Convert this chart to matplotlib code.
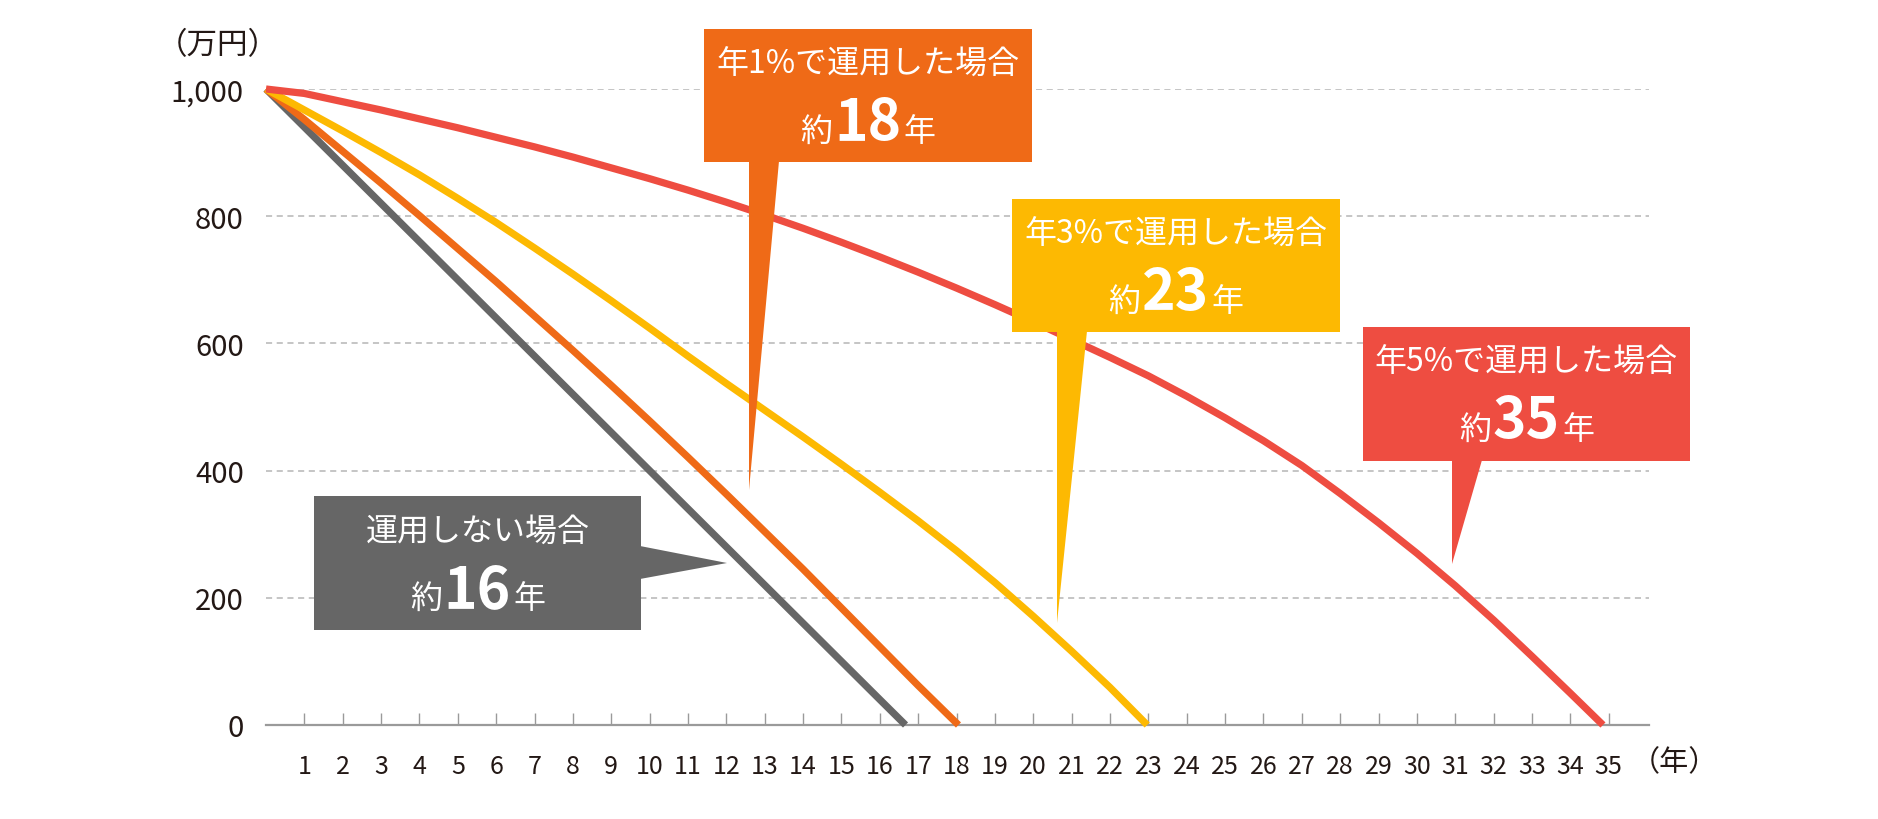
import numpy as np
import matplotlib
matplotlib.use("Agg")
import matplotlib.pyplot as plt
from matplotlib.patches import Polygon, Rectangle

plt.rcParams['font.family'] = ['Noto Sans CJK JP', 'DejaVu Sans']

# --- data (万円) ---
years_none = [0, 1, 2, 3, 4, 5, 6, 7, 8, 9, 10, 11, 12, 13, 14, 15, 16, 16.67]
bal_none = [1000, 940, 880, 820, 760, 700, 640, 580, 520, 460, 400, 340, 280,
            220, 160, 100, 40, 0]

years_1pct = [0, 1, 2, 3, 4, 5, 6, 7, 8, 9, 10, 11, 12, 13, 14, 15, 16, 17, 18.05]
bal_1pct = [1000, 952, 902, 852, 801, 749, 697, 643, 589, 534, 478, 421, 363,
            304, 245, 184, 123, 62, 0]

years_3pct = [0, 1, 2, 3, 4, 5, 6, 7, 8, 9, 10, 11, 12, 13, 14, 15, 16, 17,
              18, 19, 20, 21, 22, 22.97]
bal_3pct = [1000, 967, 934, 900, 865, 828, 790, 750, 709, 667, 624, 580, 537,
            495, 453, 410, 366, 321, 274, 224, 171, 116, 59, 0]

years_5pct = [0, 1, 2, 3, 4, 5, 6, 7, 8, 9, 10, 11, 12, 13, 14, 15, 16, 17,
              18, 19, 20, 21, 22, 23, 24, 25, 26, 27, 28, 29, 30, 31, 32, 33,
              34, 34.85]
bal_5pct = [1000, 993, 980, 967, 953, 939, 924, 909, 893, 876, 859, 841, 822,
            802, 781, 759, 736, 712, 687, 661, 634, 606, 578, 549, 517, 483,
            447, 408, 364, 318, 270, 219, 165, 108, 50, 0]

x_ticks = list(range(1, 36))
y_ticks = [0, 200, 400, 600, 800, 1000]
y_ticklabels = ["0", "200", "400", "600", "800", "1,000"]

labels = ["運用しない場合", "年1%で運用した場合", "年3%で運用した場合", "年5%で運用した場合"]
years_label = ["16", "18", "23", "35"]

GREY = "#666666"
ORANGE = "#EF6A17"
YELLOW = "#FDB902"
RED = "#EE4D41"

W, H = 1878, 820
fig = plt.figure(figsize=(W / 100, H / 100), dpi=100)
ax = fig.add_axes([266 / W, 1 - 726 / H, (1649 - 266) / W, (726 - 90) / H])

series = [(years_none, bal_none, GREY), (years_1pct, bal_1pct, ORANGE),
          (years_3pct, bal_3pct, YELLOW), (years_5pct, bal_5pct, RED)]
for xs, ys, c in series:
    ax.plot(xs, ys, color=c, lw=5.2, clip_on=False, solid_joinstyle='round',
            solid_capstyle='butt', zorder=3)

ax.set_xlim(0, 36.05)
ax.set_ylim(0, 1000)
ax.set_xticks(x_ticks)
ax.set_xticklabels([str(v) for v in x_ticks])
ax.set_yticks(y_ticks)
ax.set_yticklabels(y_ticklabels)

for s in ['top', 'right', 'left']:
    ax.spines[s].set_visible(False)
ax.spines['bottom'].set_color('#9a9a9a')
ax.spines['bottom'].set_linewidth(1.6)

ax.tick_params(axis='x', direction='in', length=9, width=1, color='#9a9a9a',
               labelsize=18, pad=20, labelcolor='#231815')
ax.tick_params(axis='y', length=0, labelsize=21, pad=16, labelcolor='#231815')

for v in y_ticks[1:]:
    ax.axhline(v, color='#b5b5b5', lw=1.1, ls=(0, (4, 3)), zorder=1)

fig.text(218 / W, 1 - 46 / H, "（万円）", fontsize=22, color='#231815',
         ha='center', va='center')
fig.text(1674 / W, 1 - 763 / H, "（年）", fontsize=21, color='#231815',
         ha='center', va='center')

# --- callout boxes (layout in pixels) ---
boxes = [(314, 497, 641, 631), (704, 30, 1032, 163),
         (1012, 200, 1340, 333), (1363, 328, 1690, 462)]
pointers = [[(640, 547), (640, 580), (727, 564)],
            [(749, 162), (779, 162), (749, 491)],
            [(1057, 332), (1087, 332), (1057, 624)],
            [(1452, 461), (1482, 461), (1452, 565)]]
colors = [GREY, ORANGE, YELLOW, RED]


def px(X, Y):
    return (X / W, 1 - Y / H)


renderer = fig.canvas.get_renderer()
for (x0, y0, x1, y1), ptr, c, lab, num in zip(boxes, pointers, colors, labels, years_label):
    fig.add_artist(Rectangle(px(x0, y1), (x1 - x0) / W, (y1 - y0) / H,
                             transform=fig.transFigure, color=c, lw=0, zorder=4))
    fig.add_artist(Polygon([px(*p) for p in ptr], closed=True, transform=fig.transFigure,
                           color=c, lw=0, zorder=4))
    cx = (x0 + x1) / 2
    fig.text(*px(cx, y0 + 35), lab, fontsize=23, color='white', ha='center',
             va='center', zorder=5)
    base = y0 + 111
    t = fig.text(*px(cx, base), num, fontsize=41, fontweight='bold', color='white',
                 ha='center', va='baseline', zorder=5)
    bb = t.get_window_extent(renderer)
    fig.text(bb.x0 / W - 2 / W, 1 - base / H, "約", fontsize=23, color='white',
             ha='right', va='baseline', zorder=5)
    fig.text(bb.x1 / W + 2 / W, 1 - base / H, "年", fontsize=23, color='white',
             ha='left', va='baseline', zorder=5)

fig.savefig("out.png", dpi=100)
